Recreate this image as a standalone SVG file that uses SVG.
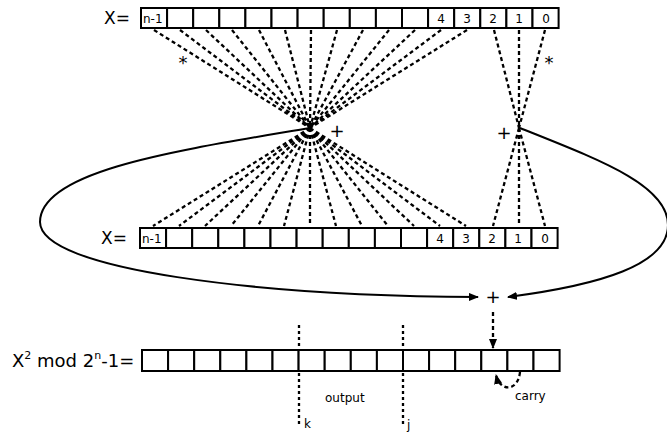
<svg xmlns="http://www.w3.org/2000/svg" width="667" height="435" viewBox="0 0 667 435">
<style>
text{font-family:"DejaVu Sans","Liberation Sans",sans-serif;fill:#000}
.cell{fill:#fff;stroke:#000;stroke-width:2}
.dash{fill:none;stroke:#000;stroke-width:2.3;stroke-dasharray:4,3}
.dot{fill:none;stroke:#000;stroke-width:2.3;stroke-dasharray:3,3}
.curve{fill:none;stroke:#000;stroke-width:2}
.lbl{font-size:17px}
.c{font-size:12px;text-anchor:middle}
.sm{font-size:12px}
.op{font-size:18px;text-anchor:middle}
</style>
<defs>
<marker id="ah" markerWidth="10" markerHeight="8" refX="9" refY="4" orient="auto" markerUnits="userSpaceOnUse">
<path d="M0,0 L10,4 L0,8 Z" fill="#000"/>
</marker>
</defs>
<g id="connectors">
<g id="fan-top-left">
<path class="dash" d="M154,30 L310,128 M180,30 L310,128 M206,30 L310,128 M232,30 L310,128 M259,30 L310,128 M285,30 L310,128 M311,30 L310,128 M337,30 L310,128 M363,30 L310,128 M389,30 L310,128 M415,30 L310,128 M441,30 L310,128 M467,30 L310,128"/>
</g>
<g id="fan-mid-left">
<path class="dash" d="M310,128 L153,226 M310,128 L179,226 M310,128 L205,226 M310,128 L231,226 M310,128 L258,226 M310,128 L284,226 M310,128 L310,226 M310,128 L336,226 M310,128 L362,226 M310,128 L388,226 M310,128 L414,226 M310,128 L440,226 M310,128 L466,226"/>
</g>
<g id="fan-right">
<path class="dash" d="M494,30 L519,128 M519,30 L519,128 M545,30 L519,128 M519,128 L493,226 M519,128 L519,226 M519,128 L545,226"/>
</g>
<path id="loop-left" class="curve" d="M310,128 C180,150 40,170 40,222 C40,270 260,296 478,297" marker-end="url(#ah)"/>
<path id="loop-right" class="curve" d="M520,128 C600,160 668,185 668,225 C668,265 600,285 508,297" marker-end="url(#ah)"/>
<path id="sum-down" class="dash" d="M493,312 L493,348" marker-end="url(#ah)"/>
<path id="carry-arc" class="dash" d="M520,372 C518,392 500,392 496,375" marker-end="url(#ah)"/>
<path id="cut-k" class="dot" d="M299,325 L299,425"/>
<path id="cut-j" class="dot" d="M403,325 L403,425"/>
</g>
<g id="row-top">
<text class="lbl" x="104" y="24">X=</text>
<rect class="cell" x="141" y="8" width="26.1" height="20"/>
<rect class="cell" x="167.1" y="8" width="26.1" height="20"/>
<rect class="cell" x="193.2" y="8" width="26.1" height="20"/>
<rect class="cell" x="219.3" y="8" width="26.1" height="20"/>
<rect class="cell" x="245.4" y="8" width="26.1" height="20"/>
<rect class="cell" x="271.5" y="8" width="26.1" height="20"/>
<rect class="cell" x="297.6" y="8" width="26.1" height="20"/>
<rect class="cell" x="323.7" y="8" width="26.1" height="20"/>
<rect class="cell" x="349.8" y="8" width="26.1" height="20"/>
<rect class="cell" x="375.9" y="8" width="26.1" height="20"/>
<rect class="cell" x="402" y="8" width="26.1" height="20"/>
<rect class="cell" x="428.1" y="8" width="26.1" height="20"/>
<rect class="cell" x="454.2" y="8" width="26.1" height="20"/>
<rect class="cell" x="480.3" y="8" width="26.1" height="20"/>
<rect class="cell" x="506.4" y="8" width="26.1" height="20"/>
<rect class="cell" x="532.5" y="8" width="26.1" height="20"/>
<text class="sm" x="143" y="23">n-1</text>
<text class="c" x="441" y="23">4</text>
<text class="c" x="467" y="23">3</text>
<text class="c" x="493" y="23">2</text>
<text class="c" x="519" y="23">1</text>
<text class="c" x="546" y="23">0</text>
</g>
<g id="row-mid">
<text class="lbl" x="101" y="244">X=</text>
<rect class="cell" x="140" y="228" width="26.1" height="20"/>
<rect class="cell" x="166.1" y="228" width="26.1" height="20"/>
<rect class="cell" x="192.2" y="228" width="26.1" height="20"/>
<rect class="cell" x="218.3" y="228" width="26.1" height="20"/>
<rect class="cell" x="244.4" y="228" width="26.1" height="20"/>
<rect class="cell" x="270.5" y="228" width="26.1" height="20"/>
<rect class="cell" x="296.6" y="228" width="26.1" height="20"/>
<rect class="cell" x="322.7" y="228" width="26.1" height="20"/>
<rect class="cell" x="348.8" y="228" width="26.1" height="20"/>
<rect class="cell" x="374.9" y="228" width="26.1" height="20"/>
<rect class="cell" x="401" y="228" width="26.1" height="20"/>
<rect class="cell" x="427.1" y="228" width="26.1" height="20"/>
<rect class="cell" x="453.2" y="228" width="26.1" height="20"/>
<rect class="cell" x="479.3" y="228" width="26.1" height="20"/>
<rect class="cell" x="505.4" y="228" width="26.1" height="20"/>
<rect class="cell" x="531.5" y="228" width="26.1" height="20"/>
<text class="sm" x="142" y="243">n-1</text>
<text class="c" x="440" y="243">4</text>
<text class="c" x="466" y="243">3</text>
<text class="c" x="492" y="243">2</text>
<text class="c" x="518" y="243">1</text>
<text class="c" x="545" y="243">0</text>
</g>
<g id="row-result">
<text x="12" y="367" font-size="18">X<tspan font-size="11" dy="-8">2</tspan><tspan dy="8"> mod 2</tspan><tspan font-size="11" dy="-8">n</tspan><tspan dy="8">-1=</tspan></text>
<rect class="cell" x="142" y="350" width="26.1" height="21"/>
<rect class="cell" x="168.1" y="350" width="26.1" height="21"/>
<rect class="cell" x="194.2" y="350" width="26.1" height="21"/>
<rect class="cell" x="220.3" y="350" width="26.1" height="21"/>
<rect class="cell" x="246.4" y="350" width="26.1" height="21"/>
<rect class="cell" x="272.5" y="350" width="26.1" height="21"/>
<rect class="cell" x="298.6" y="350" width="26.1" height="21"/>
<rect class="cell" x="324.7" y="350" width="26.1" height="21"/>
<rect class="cell" x="350.8" y="350" width="26.1" height="21"/>
<rect class="cell" x="376.9" y="350" width="26.1" height="21"/>
<rect class="cell" x="403" y="350" width="26.1" height="21"/>
<rect class="cell" x="429.1" y="350" width="26.1" height="21"/>
<rect class="cell" x="455.2" y="350" width="26.1" height="21"/>
<rect class="cell" x="481.3" y="350" width="26.1" height="21"/>
<rect class="cell" x="507.4" y="350" width="26.1" height="21"/>
<rect class="cell" x="533.5" y="350" width="26.1" height="21"/>
</g>
<g id="labels">
<text class="op" x="183" y="69">*</text>
<text class="op" x="549" y="69">*</text>
<text class="op" x="337" y="137">+</text>
<text class="op" x="504" y="139">+</text>
<text class="op" x="493" y="303">+</text>
<text class="sm" x="325" y="402">output</text>
<text class="sm" x="515" y="400">carry</text>
<text class="sm" x="304" y="428">k</text>
<text class="sm" x="407" y="429">j</text>
</g>
</svg>
